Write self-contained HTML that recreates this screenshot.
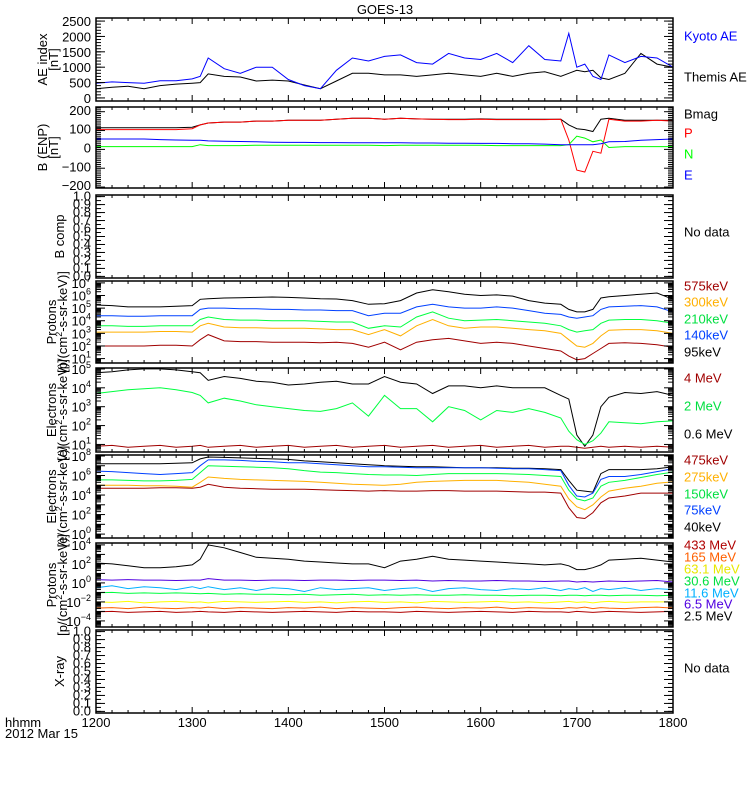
<!DOCTYPE html>
<html><head><meta charset="utf-8"><style>
body{margin:0;background:#fff}
svg{display:block;font-family:"Liberation Sans",sans-serif}
text{font-size:13px}
</style></head><body>
<svg id="chart" width="750" height="800" viewBox="0 0 750 800" xmlns="http://www.w3.org/2000/svg">
<rect width="750" height="800" fill="#fff"/>
<text x="385" y="14" text-anchor="middle" font-size="13">GOES-13</text>
<text x="5" y="727">hhmm</text>
<text x="5" y="738">2012 Mar 15</text>
<g id="layer"></g>
</svg>
<script>
// minutes after 12:00
const times=[0,10,20,30,40,50,60,65,70,80,90,100,110,120,130,140,150,160,170,180,190,200,210,220,230,240,250,260,270,280,290,295,300,305,310,315,320,330,340,350,360];
const xTickLabels=['1200','1300','1400','1500','1600','1700','1800'];
// AE index (nT)
const aeKyoto=[480,520,500,480,560,560,620,700,1300,950,800,1000,1000,600,400,300,900,1300,1200,1350,1400,1150,1100,1450,1300,1250,1450,1150,1700,1250,1200,2100,1000,1100,700,600,1400,1150,1350,1300,1000];
const aeThemis=[300,350,380,300,400,450,480,500,780,700,680,550,580,550,420,300,550,800,800,750,750,700,750,800,750,700,800,700,800,850,700,800,900,850,900,650,600,800,1450,1100,1000];
// B field (nT)
const bMag=[105,105,105,105,105,105,108,120,130,135,135,140,140,145,145,145,150,155,155,150,155,152,150,150,150,152,150,150,150,150,150,120,100,95,85,150,155,145,145,145,145];
const bP=[95,95,95,95,95,95,100,120,130,135,135,140,140,145,145,145,150,155,155,150,155,152,150,148,148,150,148,148,148,148,150,40,-120,-130,-20,-30,150,140,140,145,140];
const bN=[5,5,5,5,5,5,5,15,10,10,10,12,12,12,12,12,12,12,12,10,12,12,12,12,12,12,10,10,10,10,10,15,60,50,30,40,0,5,5,5,5];
const bE=[45,45,45,45,42,40,38,38,35,33,32,30,28,27,27,26,26,25,25,25,25,24,24,23,23,22,22,20,20,18,15,15,15,15,15,20,30,32,38,42,45];
// Protons keV, log10 flux
const p95=[5.25,5.2,5.1,5.1,5.1,5.15,5.2,5.7,5.75,5.8,5.82,5.85,5.88,5.85,5.8,5.75,5.72,5.6,5.3,5.35,5.6,6.2,6.45,6.3,6.1,6.0,6.05,5.95,5.6,5.4,5.3,4.9,4.7,4.7,4.9,5.8,5.9,6.0,6.1,6.2,5.7];
const p140=[4.4,4.4,4.35,4.35,4.4,4.4,4.4,4.9,5.0,5.0,4.95,4.95,4.9,4.9,4.85,4.85,4.8,4.8,4.4,4.6,4.6,5.1,5.3,5.1,5.0,5.0,5.1,5.0,4.8,4.6,4.5,4.3,4.2,4.3,4.4,4.9,5.1,5.15,5.2,5.1,4.7];
const p210=[3.6,3.6,3.55,3.55,3.6,3.6,3.6,4.1,4.3,4.1,4.05,4.05,4.0,4.0,4.0,3.95,3.9,3.9,3.4,3.6,3.5,4.3,4.7,4.2,4.0,4.05,4.1,4.0,3.9,3.8,3.6,3.3,3.1,3.2,3.3,3.8,4.05,4.1,4.1,4.0,3.8];
const p300=[3.1,3.1,3.1,3.1,3.15,3.15,3.1,3.6,3.8,3.5,3.45,3.45,3.4,3.4,3.4,3.35,3.3,3.3,2.9,3.3,2.8,3.6,4.1,3.6,3.4,3.5,3.5,3.4,3.3,3.2,3.0,2.5,2.0,1.9,2.2,2.8,3.25,3.3,3.3,3.2,3.0];
const p575=[2.0,2.0,2.0,2.0,2.05,2.05,2.0,2.5,2.9,2.4,2.35,2.35,2.3,2.3,2.3,2.25,2.3,2.2,1.9,2.3,1.7,2.3,2.5,2.6,2.4,2.2,2.3,2.2,2.0,1.8,1.6,1.2,0.9,1.0,1.4,1.8,2.2,2.25,2.2,2.1,1.9];
// Electrons MeV, log10 flux
const e06=[4.8,4.85,4.95,5.0,5.0,4.95,4.85,4.8,4.4,4.6,4.5,4.35,4.3,4.15,4.2,4.3,4.35,4.2,4.2,4.6,4.3,4.2,3.7,4.1,4.1,4.0,4.1,4.0,4.0,4.0,3.6,3.4,1.5,0.9,1.5,3.0,3.5,3.75,3.7,3.8,3.6];
const e2=[3.7,3.8,3.9,3.95,4.0,3.9,3.75,3.6,3.2,3.45,3.3,3.1,3.0,2.9,2.8,2.75,2.9,3.2,2.5,3.6,2.9,2.9,2.2,3.0,2.8,2.3,2.8,2.7,2.9,2.7,2.4,1.7,1.25,1.0,1.2,1.6,2.2,2.15,2.1,2.2,2.25];
const e4=[0.9,0.95,0.85,0.9,0.95,0.85,0.9,0.95,0.85,0.9,0.95,0.85,0.9,0.95,0.85,0.9,0.95,0.85,0.9,0.95,0.85,0.9,0.95,0.85,0.9,0.95,0.85,0.9,0.95,0.85,0.9,0.9,0.85,0.8,0.85,0.9,0.85,0.9,0.85,0.9,0.85];
// Electrons keV, log10 flux
const ek40=[7.2,7.2,7.2,7.2,7.2,7.25,7.3,7.7,7.9,7.85,7.8,7.75,7.7,7.65,7.5,7.4,7.3,7.2,7.1,7.0,6.95,6.9,6.9,6.85,6.8,6.8,6.8,6.75,6.75,6.7,6.6,5.5,4.5,4.4,4.3,6.2,6.6,6.6,6.6,6.7,6.9];
const ek75=[6.45,6.4,6.3,6.2,6.1,6.2,6.3,7.0,7.6,7.6,7.55,7.45,7.4,7.3,7.3,7.2,7.1,7.0,6.9,6.9,6.85,6.8,6.8,6.8,6.8,6.8,6.75,6.7,6.7,6.6,6.5,5.0,3.9,3.8,4.2,5.6,5.9,5.9,6.1,6.4,6.7];
const ek150=[5.55,5.55,5.5,5.45,5.45,5.5,5.6,6.3,7.0,6.95,6.9,6.85,6.8,6.7,6.5,6.35,6.3,6.2,6.1,6.05,6.05,6.0,6.1,6.2,6.2,6.2,6.2,6.15,6.1,6.0,5.9,4.5,3.6,3.4,3.7,4.9,5.3,5.5,5.8,6.1,6.35];
const ek275=[5.0,5.0,5.0,4.95,4.95,4.9,4.8,5.3,5.85,5.7,5.6,5.55,5.5,5.45,5.4,5.3,5.2,5.1,5.05,5.0,5.1,5.3,5.4,5.45,5.5,5.5,5.5,5.4,5.3,5.1,4.9,3.6,2.8,2.5,3.0,3.8,4.4,4.7,4.9,5.2,5.35];
const ek475=[4.7,4.7,4.7,4.7,4.75,4.75,4.7,4.8,5.1,4.8,4.7,4.65,4.6,4.6,4.6,4.55,4.5,4.45,4.4,4.45,4.4,4.4,4.45,4.45,4.4,4.4,4.4,4.35,4.3,4.3,4.2,2.7,1.7,1.6,2.2,3.2,3.7,3.9,4.2,4.2,4.2];
// Protons MeV, log10 flux
const pm25=[2.1,2.0,1.8,1.6,1.6,1.7,1.9,2.5,4.0,3.7,3.2,2.7,2.6,2.5,2.3,2.2,2.1,2.0,2.0,1.6,2.3,2.5,2.8,2.5,2.4,2.3,2.2,2.1,2.0,1.9,2.0,1.8,1.4,1.4,1.6,1.9,2.4,2.5,2.6,2.4,2.2];
const pm65=[0.35,0.3,0.35,0.3,0.3,0.25,0.3,0.3,0.45,0.3,0.3,0.25,0.3,0.3,0.25,0.3,0.3,0.25,0.3,0.3,0.25,0.3,0.2,0.25,0.2,0.2,0.25,0.2,0.2,0.15,0.2,0.2,0.1,0.15,0.1,0.15,0.2,0.15,0.2,0.25,0.1];
const pm116=[-0.5,-0.3,-0.6,-0.4,-0.5,-0.7,-0.4,-0.6,-0.4,-0.7,-0.5,-0.8,-0.5,-0.6,-0.9,-0.5,-0.7,-0.6,-0.5,-0.8,-0.6,-0.5,-0.9,-0.6,-0.5,-0.7,-0.8,-0.6,-0.7,-0.5,-0.8,-0.6,-0.7,-0.5,-0.9,-0.6,-0.7,-0.5,-0.8,-0.6,-0.7];
const pm306=[-1.05,-1.0,-1.1,-1.05,-1.1,-1.05,-1.1,-1.15,-1.1,-1.2,-1.15,-1.2,-1.2,-1.25,-1.2,-1.3,-1.25,-1.2,-1.3,-1.25,-1.3,-1.25,-1.3,-1.3,-1.25,-1.3,-1.3,-1.35,-1.3,-1.3,-1.35,-1.3,-1.3,-1.35,-1.3,-1.3,-1.35,-1.3,-1.3,-1.35,-1.3];
const pm631=[-2.0,-2.05,-1.95,-2.1,-2.0,-1.95,-2.05,-2.0,-2.1,-1.95,-2.0,-2.05,-2.0,-1.95,-2.05,-2.0,-2.1,-2.0,-1.95,-2.05,-2.0,-2.1,-1.95,-2.0,-2.05,-2.0,-1.95,-2.05,-2.0,-2.1,-2.0,-1.95,-2.05,-2.0,-2.1,-2.0,-1.95,-2.05,-2.0,-2.0,-2.0];
const pm165=[-2.65,-2.6,-2.7,-2.55,-2.65,-2.7,-2.6,-2.65,-2.55,-2.7,-2.6,-2.65,-2.7,-2.6,-2.65,-2.55,-2.7,-2.6,-2.65,-2.7,-2.6,-2.55,-2.65,-2.7,-2.6,-2.65,-2.55,-2.7,-2.6,-2.65,-2.7,-2.6,-2.65,-2.55,-2.7,-2.6,-2.65,-2.7,-2.6,-2.55,-2.65];
const pm433=[-3.05,-3.0,-3.1,-3.05,-3.0,-3.1,-3.05,-3.0,-3.05,-3.1,-3.0,-3.05,-3.1,-3.05,-3.0,-3.05,-3.1,-3.0,-3.05,-3.05,-3.1,-3.0,-3.05,-3.1,-3.05,-3.0,-3.05,-3.1,-3.0,-3.05,-3.05,-3.1,-3.0,-3.05,-3.1,-3.05,-3.0,-3.05,-3.1,-3.05,-3.0];

const NS='http://www.w3.org/2000/svg';
const layer=document.getElementById('layer');
const X0=96,X1=673,TSPAN=360;
function xs(t){return X0+(t/TSPAN)*(X1-X0);}
function mk(tag,attrs,parent){const e=document.createElementNS(NS,tag);for(const k in attrs)e.setAttribute(k,attrs[k]);(parent||layer).appendChild(e);return e;}

function drawPanel(p){
  const g=mk('g',{});
  
  
  const ys=v=>p.bot-(v-p.ymin)/(p.ymax-p.ymin)*(p.bot-p.top);
  const cp=mk('clipPath',{id:'c_'+p.name},g);
  mk('rect',{x:X0,y:p.top,width:X1-X0,height:p.bot-p.top},cp);
  (p.series||[]).forEach(s=>{
    let d='';
    s.data.forEach((v,i)=>{d+=(i?'L':'M')+xs(times[i]).toFixed(1)+' '+ys(v).toFixed(1);});
    const path=mk('path',{d:d,fill:'none',stroke:s.color,'stroke-width':1,'clip-path':'url(#c_'+p.name+')'},g);
    
    
  });
  const fr=mk('rect',{x:X0,y:p.top,width:X1-X0,height:p.bot-p.top,fill:'none',stroke:'#000','stroke-width':1.5},g);
  
  
  for(let t=0;t<=TSPAN;t+=10){
    const L=(t%60===0)?6:3;const x=xs(t);
    mk('line',{x1:x,x2:x,y1:p.bot,y2:p.bot-L,stroke:'#000'},g);
    mk('line',{x1:x,x2:x,y1:p.top,y2:p.top+L,stroke:'#000'},g);
  }
  const tick=(v,L)=>{const y=ys(v);if(y<p.top-0.5||y>p.bot+0.5)return;
    mk('line',{x1:X0,x2:X0+L,y1:y,y2:y,stroke:'#000'},g);
    mk('line',{x1:X1,x2:X1-L,y1:y,y2:y,stroke:'#000'},g);};
  if(p.log){
    for(let dcd=Math.floor(p.ymin);dcd<=Math.ceil(p.ymax);dcd++){
      tick(dcd,9);
      for(let k=2;k<=9;k++)tick(dcd+Math.log10(k),5);
    }
    p.labels.forEach(e=>{const y=ys(e);
      const tx=mk('text',{x:91,y:y+5,'text-anchor':'end'},g);
      
      
      const a=mk('tspan',{},tx);a.textContent='10';
      const b=mk('tspan',{dy:-6,'font-size':9},tx);b.textContent=String(e).replace('-','\u2212');});
  }else{
    for(let v=p.ymin0;v<=p.ymax0+1e-9;v+=p.minor)tick(v,5);
    for(let v=p.ymin0;v<=p.ymax0+1e-9;v+=p.major)tick(v,9);
    p.labels.forEach(v=>{const tx=mk('text',{x:91,y:ys(v)+(p.fs?p.fs*0.37:5),'text-anchor':'end','font-size':p.fs||13},g);
      
      
      tx.textContent=(p.fmt?p.fmt(v):String(v)).replace('-','\u2212');});
  }
  const cy=(p.top+p.bot)/2;
  p.title.forEach((ln,i)=>{
    const tx=mk('text',{x:0,y:0,'text-anchor':'middle',transform:'translate('+(p.titleX+i*11)+','+cy+') rotate(-90)'},g);
    
    
    tx.innerHTML=ln;
  });
  p.legend.forEach(l=>{
    const tx=mk('text',{x:684,y:l.y+4.5,fill:l.color},g);
    
    
    tx.textContent=l.text;
  });
}

const panels=[
 {name:'ae-panel',top:18,bot:101,ymin:-100,ymax:2600,ymin0:0,ymax0:2500,major:500,minor:100,labels:[0,500,1000,1500,2000,2500],
  title:['AE index','[nT]'],titleX:47,
  series:[{key:'themis-ae',data:aeThemis,color:'#000'},{key:'kyoto-ae',data:aeKyoto,color:'#0000ff'}],
  legend:[{text:'Kyoto AE',y:36,color:'#0000ff'},{text:'Themis AE',y:77,color:'#000'}]},
 {name:'b-panel',top:107,bot:188,ymin:-215,ymax:215,ymin0:-210,ymax0:210,major:100,minor:10,labels:[-200,-100,0,100,200],
  title:['B (ENP)','[nT]'],titleX:47,
  series:[{key:'b-mag',data:bMag,color:'#000'},{key:'b-p',data:bP,color:'#ff0000'},{key:'b-n',data:bN,color:'#00ff00'},{key:'b-e',data:bE,color:'#0000ff'}],
  legend:[{text:'Bmag',y:114,color:'#000'},{text:'P',y:133,color:'#ff0000'},{text:'N',y:154,color:'#00ff00'},{text:'E',y:175,color:'#0000ff'}]},
 {name:'bcomp-panel',top:195,bot:278,ymin:-0.02,ymax:1.02,ymin0:0,ymax0:1.0,major:0.1,minor:0.05,labels:[0,0.1,0.2,0.3,0.4,0.5,0.6,0.7,0.8,0.9,1.0],fmt:v=>v.toFixed(1),fs:11,
  title:['B comp'],titleX:64,series:[],legend:[{text:'No data',y:232,color:'#000'}]},
 {name:'protons-kev-panel',top:281,bot:363,log:true,ymin:0.65,ymax:7.15,labels:[1,2,3,4,5,6,7],
  title:['Protons','[p/(cm<tspan font-size="9" dy="-5">2</tspan><tspan dy="5">-s-sr-keV)]</tspan>'],titleX:56,
  series:[{key:'p-95kev',data:p95,color:'#000'},{key:'p-140kev',data:p140,color:'#0040ff'},{key:'p-210kev',data:p210,color:'#00ff40'},{key:'p-300kev',data:p300,color:'#ffb000'},{key:'p-575kev',data:p575,color:'#a00000'}],
  legend:[{text:'575keV',y:286,color:'#a00000'},{text:'300keV',y:302,color:'#ffb000'},{text:'210keV',y:319,color:'#00e040'},{text:'140keV',y:335,color:'#0040ff'},{text:'95keV',y:352,color:'#000'}]},
 {name:'electrons-mev-panel',top:368,bot:452,log:true,ymin:0.6,ymax:5.05,labels:[1,2,3,4,5],
  title:['Electrons','[e/(cm<tspan font-size="9" dy="-5">2</tspan><tspan dy="5">-s-sr-keV)]</tspan>'],titleX:56,
  series:[{key:'e-06mev',data:e06,color:'#000'},{key:'e-2mev',data:e2,color:'#00ff40'},{key:'e-4mev',data:e4,color:'#a00000'}],
  legend:[{text:'4 MeV',y:378,color:'#a00000'},{text:'2 MeV',y:406,color:'#00e040'},{text:'0.6 MeV',y:434,color:'#000'}]},
 {name:'electrons-kev-panel',top:455,bot:538,log:true,ymin:-0.4,ymax:8.1,labels:[0,2,4,6,8],
  title:['Electrons','[e/(cm<tspan font-size="9" dy="-5">2</tspan><tspan dy="5">-s-sr-keV)]</tspan>'],titleX:56,
  series:[{key:'e-40kev',data:ek40,color:'#000'},{key:'e-75kev',data:ek75,color:'#0040ff'},{key:'e-150kev',data:ek150,color:'#00ff40'},{key:'e-275kev',data:ek275,color:'#ffb000'},{key:'e-475kev',data:ek475,color:'#a00000'}],
  legend:[{text:'475keV',y:460,color:'#a00000'},{text:'275keV',y:477,color:'#ffb000'},{text:'150keV',y:494,color:'#00e040'},{text:'75keV',y:510,color:'#0040ff'},{text:'40keV',y:527,color:'#000'}]},
 {name:'protons-mev-panel',top:543,bot:627,log:true,ymin:-4.64,ymax:4.2,labels:[-4,-2,0,2,4],
  title:['Protons','[p/(cm<tspan font-size="9" dy="-5">2</tspan><tspan dy="5">-s-sr-keV)]</tspan>'],titleX:56,
  series:[{key:'p-2_5mev',data:pm25,color:'#000'},{key:'p-6_5mev',data:pm65,color:'#5000e0'},{key:'p-11_6mev',data:pm116,color:'#00b0ff'},{key:'p-30_6mev',data:pm306,color:'#00ff40'},{key:'p-63_1mev',data:pm631,color:'#ffff00'},{key:'p-165mev',data:pm165,color:'#ff6000'},{key:'p-433mev',data:pm433,color:'#b00000'}],
  legend:[{text:'433 MeV',y:545,color:'#b00000'},{text:'165 MeV',y:557,color:'#ff6000'},{text:'63.1 MeV',y:569,color:'#e8e800'},{text:'30.6 MeV',y:581,color:'#00e040'},{text:'11.6 MeV',y:593,color:'#00b0ff'},{text:'6.5 MeV',y:604,color:'#5000e0'},{text:'2.5 MeV',y:616,color:'#000'}]},
 {name:'xray-panel',top:630,bot:713,ymin:-0.02,ymax:1.02,ymin0:0,ymax0:1.0,major:0.1,minor:0.05,labels:[0,0.1,0.2,0.3,0.4,0.5,0.6,0.7,0.8,0.9,1.0],fmt:v=>v.toFixed(1),fs:11,
  title:['X-ray'],titleX:64,series:[],legend:[{text:'No data',y:668,color:'#000'}]}
];
panels.forEach(drawPanel);

xTickLabels.forEach((lab,i)=>{
  const t=i*60;
  const tx=mk('text',{x:xs(t),y:727,'text-anchor':'middle'});
  
  
  tx.textContent=lab;
});
</script>
</body></html>
